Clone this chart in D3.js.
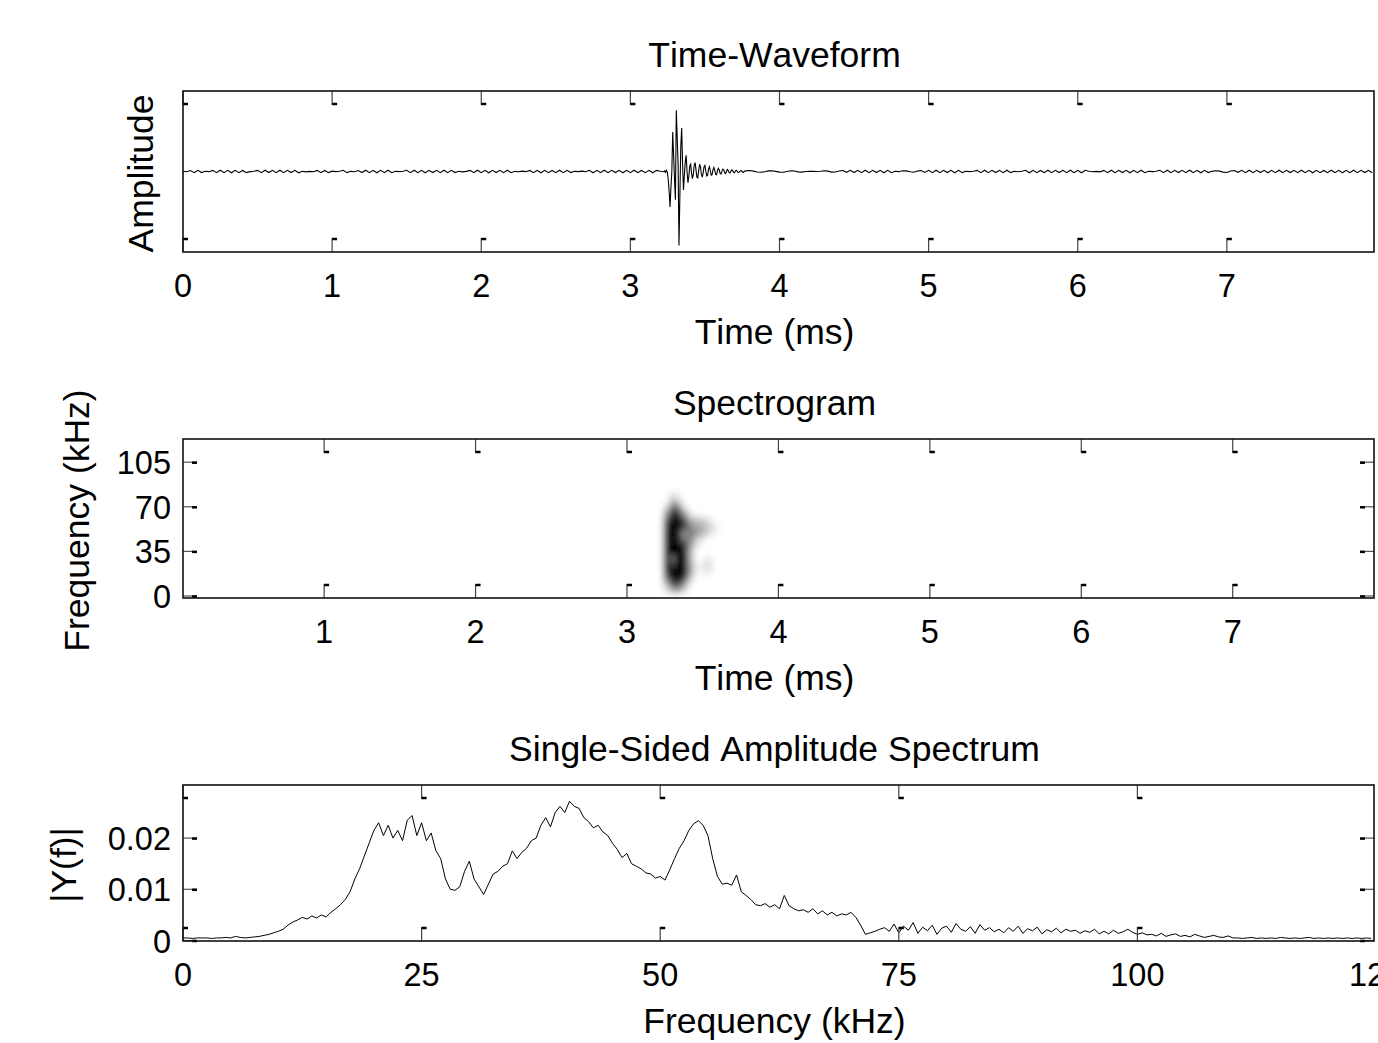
<!DOCTYPE html>
<html>
<head>
<meta charset="utf-8">
<script src="https://cdn.jsdelivr.net/npm/d3@7"></script>
<style>
  body { margin: 0; background: #fff; }
  text { font-family: "Liberation Sans", Arial, sans-serif; font-size: 32.5px; fill: #000; font-kerning: none; }
  text.lab { font-size: 35.5px; }
</style>
</head>
<body>
<div id="chart"></div>
<script>
// ---- time waveform (amplitude in thousandths) ----
const noiseAStart = 0, noiseAStep = 0.025;
const noiseA = [
  4,-3,12,-14,15,-13,3,-2,14,-15, 16,-14,15,-16,14,-15,13,-14,-2,3,
  14,-15,16,-13,15,-14,16,-15,14,-13, 15,-16,3,-4,2,-3,14,-15,13,-14,
  4,-2,3,15,-14,2,-3,12,-13,16, -15,14,-16,15,-14,16,-15,3,-2,4,
  15,-14,16,-15,14,-16,15,-13,14,-15, 16,-14,15,-13,3,-4,2,14,-15,16,
  -14,15,-16,14,-13,15,-14,16,-15,2, -3,4,-2,13,-14,15,-16,14,-15,13,
  -14,16,-15,14,-13,3,-2,4,-3,15, -16,14,-15,16,-14,15,-13,14,-16,15,
  -14,16,-15,13,-14,15,-16,14,4,-3
];
const burstStart = 3.23, burstStep = 0.006;
const burst = [
  10,-12,15,-10,-100,-250,-440,-200,0,490,
  200,-100,-350,760,420,100,-920,-300,300,540,
  100,-230,-50,120,200,0,-140,-60,60,100,
  -20,-90,-40,80,110,20,-70,-80,10,90,
  60,-30,-70,-20,60,75,0,-55,-45,30,
  60,10,-45,-40,20,50,15,-35,-40,10,
  40,20,-25,-30,5,30,20,-15,-25,0,
  25,15,-15,-20,5,20,10,-10,-15,5,
  15,5,-10,-12,3,12,6,-8,-10,2
];
const noiseBStart = 3.775, noiseBStep = 0.025;
const noiseB = [
  8,12,5,-6,-10,-4,8,10,2,-8, -9,0,9,6,-5,-8,0,2,1,0,
  4,10,5,-8,-6,7,12,-10,14,-13, 15,-14,16,-15,14,-13,15,-16,14,-15,
  3,-2,10,8,-3,-9,5,12,-11,14, -15,16,-14,15,-13,14,-16,15,-14,3,
  -2,4,14,-15,16,-14,15,-13,14,-15, 16,-14,2,-3,4,15,-16,14,-15,13,
  -14,16,-15,14,-13,15,-14,16,-15,14, -16,15,4,-3,2,-4,14,-15,16,-14,
  15,-13,14,-16,15,-14,16,-15,3,-2, 4,15,-14,16,-15,14,-13,15,-14,16,
  -15,14,-16,15,-13,2,10,5,-8,-12, 6,12,-10,14,-15,16,-14,15,-13,14,
  -16,15,-14,16,-15,14,-13,15,-14,16, -15,14,-16,15,-14,13,-15,16,-14,15,
  -16,14,-15,16,-14,15,-13,14,-16
];
const waveTicks = [0,1,2,3,4,5,6,7];

// ---- spectrogram (normalised power) ----
const specTimes = [3.22,3.26,3.30,3.34,3.38,3.42,3.46,3.50,3.54,3.58,3.62];
const specFreqs = [0,5,10,15,20,25,30,35,40,45,50,55,60,65,70,75,80,85];
const specPower = [
  [0,0,0,0,0,0,0,0,0,0,0],
  [0,0.1,0.35,0.4,0.15,0,0,0,0,0,0],
  [0,0.3,0.7,0.75,0.45,0.05,0,0,0,0,0],
  [0,0.6,0.95,1,0.8,0.25,0,0,0,0,0],
  [0,0.85,1,1,0.95,0.4,0.05,0.05,0.1,0,0],
  [0,0.9,0.75,1,1,0.35,0.05,0.1,0.15,0,0],
  [0,0.9,0.55,1,0.95,0.3,0,0,0.1,0,0],
  [0,0.9,1,1,0.9,0.3,0,0,0,0,0],
  [0,0.85,1,1,0.85,0.4,0.1,0,0,0,0],
  [0,0.85,1,0.85,0.5,0.5,0.2,0.1,0,0,0],
  [0,0.85,1,0.9,0.4,0.55,0.4,0.3,0.15,0.05,0],
  [0,0.8,1,0.95,0.8,0.45,0.35,0.3,0.2,0.1,0],
  [0,0.65,1,0.95,0.7,0.3,0.25,0.2,0.1,0,0],
  [0,0.4,0.85,0.8,0.4,0.1,0,0,0,0,0],
  [0,0.15,0.6,0.5,0.1,0,0,0,0,0,0],
  [0,0,0.3,0.2,0,0,0,0,0,0,0],
  [0,0,0.1,0.05,0,0,0,0,0,0,0],
  [0,0,0,0,0,0,0,0,0,0,0]
];
const specXTicks = [1,2,3,4,5,6,7];
const specYTicks = [0,35,70,105];

// ---- amplitude spectrum (units of 1e-4), 0.5 kHz bins ----
const ampStep = 0.5;
const ampSpectrum = [
  5,5,4,5,5,5,4,5,5,6,5, 8,6,5,6,7, 8,10,12,15,18, 22,30,36,40,
  45,42,48,44,50,46, 55,62,70,80,
  95,120,140,165, 190,215,230,205, 225,200,215,195, 235,244,205,230,
  195,210,175,160, 120,100,98,105, 135,155,120,105, 90,110,130,135,
  145,150,175,160, 172,180,195,200, 225,240,222,250, 262,250,272,262,
  258,240,232,220, 225,212,205,190, 178,162,170,150, 145,140,132,130,
  122,125,118,138, 160,180,195,215, 228,234,225,205, 160,125,110,112,
  108,128,95,88, 80,70,68,72, 65,70,62,88, 68,62,58,60,
  55,62,52,58, 50,55,48,52, 50,55,45,30,
  12,15,18,22,
  25,18,32,15,28,20,35,14,26,19,30,12,24,28,16,33,22,18,27,14,31,20,25,17,
  22,15,25,18,28,14,23,19,26,13,21,17,24,15,22,18,20,14,19,16,22,13,
  18,13,20,14,17,22,16,12,15,11,
  12,9,14,8,11,13,8,10,7,12,9,6,8,10,7,6,9,5,
  5,4,5,6,4,5,4,5,4,6,5,4,5,4,5,6,4,5,4,5,4,5,4,5,4,5,4,5,4
];
const ampXTicks = [0,25,50,75,100,125];
const ampXLabels = ['0','25','50','75','100','125'];
const ampYTicks = [0,0.01,0.02];

// ---- layout ----
const W = 1378, H = 1043;
const left = 183, right = 1374;
const tickLen = 14;

const svg = d3.select('#chart').append('svg').attr('width', W).attr('height', H);
const defs = svg.append('defs');
defs.append('filter').attr('id', 'blur')
    .attr('filterUnits', 'userSpaceOnUse')
    .attr('x', 0).attr('y', 0).attr('width', W).attr('height', H)
  .append('feGaussianBlur').attr('stdDeviation', 3);

function clip(id, top, bottom){
  defs.append('clipPath').attr('id', id)
    .append('rect').attr('x', left).attr('y', top)
    .attr('width', right - left).attr('height', bottom - top);
  return `url(#${id})`;
}

function xTicks(g, x, values, top, bottom){
  values.forEach(v => {
    const px = x(v);
    if (px < left - 0.5 || px > right + 0.5) return;
    g.append('line').attr('x1', px).attr('x2', px).attr('y1', top).attr('y2', top + tickLen)
      .attr('stroke', '#444').attr('stroke-width', 1.2);
    g.append('line').attr('x1', px).attr('x2', px + 5).attr('y1', top + tickLen - 1).attr('y2', top + tickLen - 1)
      .attr('stroke', '#000').attr('stroke-width', 2.5);
    g.append('line').attr('x1', px).attr('x2', px).attr('y1', bottom).attr('y2', bottom - tickLen)
      .attr('stroke', '#444').attr('stroke-width', 1.2);
    g.append('line').attr('x1', px).attr('x2', px + 5).attr('y1', bottom - tickLen + 1).attr('y2', bottom - tickLen + 1)
      .attr('stroke', '#000').attr('stroke-width', 2.5);
  });
}

function yTicks(g, y, values){
  values.forEach(v => {
    const py = y(v);
    g.append('line').attr('x1', left).attr('x2', left + tickLen).attr('y1', py).attr('y2', py)
      .attr('stroke', '#555').attr('stroke-width', 1.2);
    g.append('line').attr('x1', left + tickLen - 5).attr('x2', left + tickLen).attr('y1', py + 0.5).attr('y2', py + 0.5)
      .attr('stroke', '#000').attr('stroke-width', 2.5);
    g.append('line').attr('x1', right).attr('x2', right - tickLen).attr('y1', py).attr('y2', py)
      .attr('stroke', '#555').attr('stroke-width', 1.2);
    g.append('line').attr('x1', right - tickLen).attr('x2', right - tickLen + 5).attr('y1', py + 0.5).attr('y2', py + 0.5)
      .attr('stroke', '#000').attr('stroke-width', 2.5);
  });
}

function box(g, top, bottom){
  g.append('rect').attr('x', left).attr('y', top)
    .attr('width', right - left).attr('height', bottom - top)
    .attr('fill', 'none').attr('stroke', '#111').attr('stroke-width', 1.6);
}

function xLabels(g, x, values, labels, bottom){
  values.forEach((v, i) => {
    g.append('text').attr('x', x(v)).attr('y', bottom + 45)
      .attr('text-anchor', 'middle').text(labels ? labels[i] : v);
  });
}

function yLabels(g, y, values, fmt){
  values.forEach(v => {
    g.append('text').attr('x', left - 12).attr('y', y(v) + 12)
      .attr('text-anchor', 'end').text(fmt(v));
  });
}

function titles(g, title, xlab, ylab, top, bottom, ylabX){
  const cx = (left + right) / 2 - 4;
  g.append('text').attr('class', 'lab').attr('x', cx).attr('y', top - 24).attr('text-anchor', 'middle').text(title);
  g.append('text').attr('class', 'lab').attr('x', cx).attr('y', bottom + 92).attr('text-anchor', 'middle').text(xlab);
  g.append('text').attr('class', 'lab').attr('transform', `translate(${ylabX},${(top + bottom) / 2 + 2}) rotate(-90)`)
    .attr('text-anchor', 'middle').text(ylab);
}

// ---- panel 1: time waveform ----
{
  const top = 91, bottom = 252;
  const g = svg.append('g');
  const x = d3.scaleLinear().domain([0, 8]).range([left, 1376]);
  const y = d3.scaleLinear().domain([-1, 1]).range([bottom, top]);
  const pts = [];
  noiseA.forEach((v, i) => pts.push([noiseAStart + i * noiseAStep, v / 1000]));
  burst.forEach((v, i) => pts.push([burstStart + i * burstStep, v / 1000]));
  noiseB.forEach((v, i) => pts.push([noiseBStart + i * noiseBStep, v / 1000]));
  const line = d3.line().x(d => x(d[0])).y(d => y(d[1]));
  g.append('path').attr('clip-path', clip('c1', top, bottom))
    .attr('d', line(pts)).attr('fill', 'none').attr('stroke', '#000').attr('stroke-width', 1.1);
  xTicks(g, x, waveTicks, top, bottom);
  box(g, top, bottom);
  xLabels(g, x, waveTicks, null, bottom);
  titles(g, 'Time-Waveform', 'Time (ms)', 'Amplitude', top, bottom, 153);
}

// ---- panel 2: spectrogram ----
{
  const top = 439, bottom = 598;
  const g = svg.append('g');
  const x = d3.scaleLinear().domain([0.068, 7.933]).range([left, right]);
  const y = d3.scaleLinear().domain([0, 123.2]).range([596, top]);
  const shade = d3.scaleLinear().domain([0, 1]).range(['#ffffff', '#000000']);
  const dt = specTimes[1] - specTimes[0];
  const df = specFreqs[1] - specFreqs[0];
  const cells = [];
  specPower.forEach((row, r) => row.forEach((p, c) => cells.push({t: specTimes[c], f: specFreqs[r], p})));
  g.append('g').attr('clip-path', clip('c2', top, bottom))
    .append('g').attr('filter', 'url(#blur)')
    .selectAll('rect').data(cells).join('rect')
      .attr('x', d => x(d.t - dt / 2))
      .attr('width', d => x(d.t + dt / 2) - x(d.t - dt / 2) + 0.5)
      .attr('y', d => y(d.f + df / 2))
      .attr('height', d => y(d.f - df / 2) - y(d.f + df / 2) + 0.5)
      .attr('fill', d => shade(d.p));
  xTicks(g, x, specXTicks, top, bottom);
  yTicks(g, y, specYTicks);
  box(g, top, bottom);
  xLabels(g, x, specXTicks, null, bottom);
  yLabels(g, y, specYTicks, d => d);
  titles(g, 'Spectrogram', 'Time (ms)', 'Frequency (kHz)', top, bottom, 89);
}

// ---- panel 3: single-sided amplitude spectrum ----
{
  const top = 785, bottom = 941;
  const g = svg.append('g');
  const x = d3.scaleLinear().domain([0, 125]).range([left, 1376]);
  const y = d3.scaleLinear().domain([0, 0.01]).range([940.5, 889.3]);
  const line = d3.line().x((d, i) => x(i * ampStep)).y(d => y(d / 10000));
  g.append('path').attr('clip-path', clip('c3', top, bottom))
    .attr('d', line(ampSpectrum)).attr('fill', 'none').attr('stroke', '#000').attr('stroke-width', 1);
  xTicks(g, x, ampXTicks, top, bottom);
  yTicks(g, y, ampYTicks);
  box(g, top, bottom);
  xLabels(g, x, ampXTicks, ampXLabels, bottom);
  yLabels(g, y, ampYTicks, d => d === 0 ? '0' : d3.format('.2f')(d));
  titles(g, 'Single-Sided Amplitude Spectrum', 'Frequency (kHz)', '|Y(f)|', top, bottom, 76);
}
</script>
</body>
</html>
